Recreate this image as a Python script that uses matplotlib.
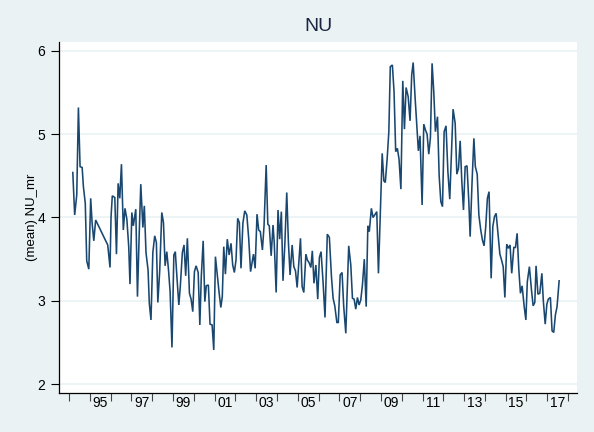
import matplotlib
matplotlib.use("Agg")
import matplotlib.pyplot as plt

plt.rcParams['font.family'] = ['Liberation Sans', 'DejaVu Sans']

title = "NU"
ylabel = "(mean) NU_mr"

dates = [
 1994.18, 1994.27, 1994.37, 1994.45, 1994.53, 1994.63, 1994.69, 1994.78, 1994.85, 1994.95,
 1995.04, 1995.11, 1995.19, 1995.28, 1995.86, 1995.97, 1996.02, 1996.08, 1996.20, 1996.28,
 1996.36, 1996.44, 1996.52, 1996.61, 1996.69, 1996.78, 1996.87, 1996.93, 1997.02, 1997.09,
 1997.21, 1997.29, 1997.37, 1997.45, 1997.55, 1997.62, 1997.70, 1997.80, 1997.86, 1997.94,
 1998.03, 1998.12, 1998.20, 1998.27, 1998.36, 1998.46, 1998.54, 1998.62, 1998.70, 1998.78,
 1998.86, 1998.95, 1999.04, 1999.11, 1999.20, 1999.28, 1999.35, 1999.45, 1999.53, 1999.61,
 1999.69, 1999.79, 1999.87, 1999.95, 2000.03, 2000.11, 2000.21, 2000.29, 2000.36, 2000.45,
 2000.53, 2000.60, 2000.70, 2000.78, 2000.88, 2000.96, 2001.04, 2001.12, 2001.22, 2001.30,
 2001.37, 2001.44, 2001.52, 2001.61, 2001.70, 2001.79, 2001.87, 2001.95, 2002.03, 2002.11,
 2002.19, 2002.27, 2002.36, 2002.45, 2002.55, 2002.64, 2002.73, 2002.87, 2002.95, 2003.04,
 2003.12, 2003.20, 2003.30, 2003.38, 2003.48, 2003.56, 2003.63, 2003.72, 2003.81, 2003.87,
 2003.96, 2004.05, 2004.13, 2004.21, 2004.29, 2004.38, 2004.47, 2004.55, 2004.63, 2004.73,
 2004.81, 2004.89, 2004.97, 2005.05, 2005.13, 2005.21, 2005.29, 2005.39, 2005.46, 2005.54,
 2005.63, 2005.70, 2005.78, 2005.87, 2005.96, 2006.04, 2006.12, 2006.22, 2006.31, 2006.42,
 2006.52, 2006.62, 2006.70, 2006.78, 2006.88, 2006.95, 2007.04, 2007.13, 2007.21, 2007.31,
 2007.39, 2007.45, 2007.55, 2007.63, 2007.71, 2007.79, 2007.87, 2007.95, 2008.03, 2008.11,
 2008.20, 2008.29, 2008.37, 2008.44, 2008.54, 2008.62, 2008.70, 2008.80, 2008.88, 2008.96,
 2009.06, 2009.14, 2009.21, 2009.30, 2009.38, 2009.45, 2009.55, 2009.63, 2009.71, 2009.79,
 2009.87, 2009.96, 2010.05, 2010.13, 2010.21, 2010.31, 2010.40, 2010.48, 2010.55, 2010.64,
 2010.72, 2010.80, 2010.88, 2010.98, 2011.06, 2011.14, 2011.22, 2011.30, 2011.38, 2011.46,
 2011.54, 2011.62, 2011.72, 2011.80, 2011.88, 2011.96, 2012.04, 2012.13, 2012.22, 2012.31,
 2012.39, 2012.47, 2012.57, 2012.65, 2012.73, 2012.81, 2012.89, 2012.97, 2013.05, 2013.14,
 2013.23, 2013.29, 2013.38, 2013.47, 2013.54, 2013.63, 2013.71, 2013.80, 2013.88, 2013.96,
 2014.04, 2014.12, 2014.20, 2014.30, 2014.38, 2014.46, 2014.54, 2014.62, 2014.72, 2014.79,
 2014.88, 2014.96, 2015.05, 2015.13, 2015.21, 2015.29, 2015.39, 2015.47, 2015.55, 2015.63,
 2015.71, 2015.79, 2015.89, 2015.97, 2016.04, 2016.14, 2016.24, 2016.32, 2016.40, 2016.46,
 2016.55, 2016.64, 2016.74, 2016.81, 2016.90, 2016.98, 2017.05, 2017.15, 2017.23, 2017.31,
 2017.39, 2017.47, 2017.57,
]

values = [
 4.54, 4.03, 4.27, 5.32, 4.61, 4.60, 4.37, 4.17, 3.48, 3.38,
 4.23, 3.93, 3.72, 3.97, 3.67, 3.40, 4.01, 4.26, 4.24, 3.56,
 4.41, 4.23, 4.64, 3.85, 4.11, 3.98, 3.65, 3.20, 4.06, 3.90,
 4.10, 3.05, 3.77, 4.40, 3.88, 4.14, 3.58, 3.37, 2.97, 2.77,
 3.58, 3.78, 3.70, 2.98, 3.36, 4.06, 3.94, 3.42, 3.59, 3.38,
 3.11, 2.44, 3.55, 3.59, 3.24, 2.95, 3.17, 3.58, 3.67, 3.30,
 3.75, 3.09, 3.02, 2.87, 3.35, 3.42, 3.34, 2.71, 3.29, 3.72,
 2.99, 3.18, 3.19, 2.72, 2.71, 2.41, 3.53, 3.33, 3.09, 2.92,
 3.05, 3.65, 3.32, 3.74, 3.55, 3.69, 3.43, 3.34, 3.49, 3.99,
 3.94, 3.39, 3.93, 4.08, 4.03, 3.75, 3.35, 3.56, 3.39, 4.04,
 3.85, 3.83, 3.61, 3.91, 4.63, 3.92, 3.90, 3.54, 3.91, 3.69,
 3.10, 4.09, 3.74, 4.07, 3.24, 3.69, 4.30, 3.70, 3.31, 3.67,
 3.41, 3.36, 3.16, 3.45, 3.75, 3.17, 3.10, 3.56, 3.49, 3.46,
 3.40, 3.60, 3.21, 3.43, 3.02, 3.52, 3.59, 3.21, 2.80, 3.80,
 3.76, 3.29, 3.03, 2.94, 2.74, 2.74, 3.31, 3.34, 2.93, 2.61,
 3.21, 3.66, 3.43, 3.03, 3.02, 2.90, 3.04, 2.95, 3.01, 3.19,
 3.50, 2.93, 3.90, 3.83, 4.11, 4.00, 4.03, 4.07, 3.33, 3.97,
 4.77, 4.44, 4.42, 4.71, 5.03, 5.81, 5.83, 5.51, 4.79, 4.83,
 4.70, 4.34, 5.64, 5.06, 5.56, 5.45, 5.16, 5.71, 5.86, 5.45,
 5.13, 4.80, 4.98, 4.15, 5.12, 5.05, 5.00, 4.76, 4.96, 5.85,
 5.51, 5.03, 5.21, 4.50, 4.19, 4.13, 5.03, 5.10, 4.55, 4.22,
 4.75, 5.30, 5.13, 4.52, 4.59, 4.92, 4.43, 4.09, 4.61, 4.62,
 4.17, 3.77, 4.41, 4.95, 4.61, 4.52, 4.03, 3.85, 3.73, 3.66,
 3.89, 4.23, 4.31, 3.27, 3.89, 4.01, 4.05, 3.83, 3.56, 3.50,
 3.41, 3.04, 3.68, 3.63, 3.67, 3.33, 3.64, 3.64, 3.81, 3.38,
 3.09, 3.18, 2.93, 2.77, 3.23, 3.41, 3.13, 2.94, 2.98, 3.42,
 3.08, 3.09, 3.33, 3.00, 2.72, 2.96, 3.02, 3.04, 2.64, 2.62,
 2.83, 2.93, 3.24,
]

year_ticks = list(range(1994, 2019))
label_years = list(range(1995, 2018, 2))
year_labels = ["%02d" % (y % 100) for y in label_years]
y_ticks = [2, 3, 4, 5, 6]

bg = "#EAF2F3"
line_color = "#1A476F"

fig = plt.figure(figsize=(5.94, 4.32), dpi=100, facecolor=bg)
ax = fig.add_axes([0.0998, 0.0896, 0.8716, 0.8139])
ax.set_facecolor("white")

ax.plot(dates, values, color=line_color, lw=1.15, solid_joinstyle="miter")

ax.set_xlim(1993.53, 2018.43)
ax.set_ylim(1.89, 6.11)

for s in ["top", "right"]:
    ax.spines[s].set_visible(False)
for s in ["left", "bottom"]:
    ax.spines[s].set_color("black")
    ax.spines[s].set_linewidth(0.9)

ax.set_yticks(y_ticks)
ax.set_yticklabels([str(v) for v in y_ticks])
ax.yaxis.grid(True, color=bg, lw=1.2)
ax.set_axisbelow(True)
ax.tick_params(axis="y", direction="out", length=6, width=0.8, labelsize=10, pad=4)

ax.set_xticks(year_ticks)
ax.set_xticklabels([""] * len(year_ticks))
ax.tick_params(axis="x", which="major", direction="out", length=6, width=0.8, color="#444444")
ax.set_xticks([y + 0.5 for y in label_years], minor=True)
ax.set_xticklabels(year_labels, minor=True)
ax.tick_params(axis="x", which="minor", length=0, labelsize=10, pad=2)

ax.set_title(title, fontsize=14, color="#1a2540", pad=8)
ax.set_ylabel(ylabel, fontsize=9.5, va="center")
ax.yaxis.set_label_coords(-0.053, 0.5)

fig.savefig("out.png", dpi=100, facecolor=bg)
